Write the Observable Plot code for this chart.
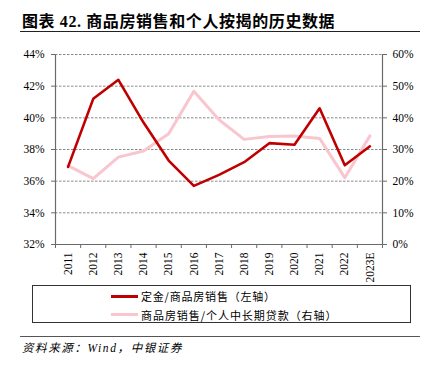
<!DOCTYPE html>
<html><head><meta charset="utf-8">
<script src="https://cdn.jsdelivr.net/npm/d3@7"></script>
<script src="https://cdn.jsdelivr.net/npm/@observablehq/plot@0.6"></script>
<style>
body{margin:0;background:#fff;}
#wrap{position:relative;width:421px;height:371px;overflow:hidden;background:#fff;font-family:"Liberation Serif","Noto Sans CJK SC",serif;}
#title{position:absolute;left:22px;top:8px;font-size:16px;font-weight:bold;letter-spacing:0.6px;font-family:"Liberation Serif","Noto Sans CJK SC",serif;color:#000;white-space:nowrap;}
#rule1{position:absolute;left:20px;top:31px;width:400px;height:0;border-top:1.5px solid #222;}
#chart{position:absolute;left:0;top:40px;}
#legend{position:absolute;left:32px;top:285px;width:377px;height:36px;border:1px solid #333;}
.li{position:absolute;left:78px;height:14px;font-size:11px;font-family:"Noto Sans CJK SC",sans-serif;color:#000;white-space:nowrap;display:flex;align-items:center;}
.sw{display:inline-block;width:27px;height:3px;margin-right:3px;}
#rule2{position:absolute;left:20px;top:336px;width:400px;height:0;border-top:1px solid #555;}
#src{position:absolute;left:22px;top:339px;font-size:11.5px;font-style:italic;letter-spacing:1.6px;font-family:"Liberation Serif","Noto Sans CJK SC",serif;color:#000;white-space:nowrap;}
</style></head>
<body><div id="wrap">
<div id="title">图表 42. 商品房销售和个人按揭的历史数据</div>
<div id="rule1"></div>
<div id="chart"></div>
<div id="legend"></div>
<div id="rule2"></div>
<div id="src">资料来源：Wind，中银证券</div>
</div>
<script>
const years = ["2011","2012","2013","2014","2015","2016","2017","2018","2019","2020","2021","2022","2023E"];
const depositRatio = [36.9, 41.2, 42.4, 39.7, 37.3, 35.7, 36.4, 37.2, 38.4, 38.3, 40.6, 37.0, 38.2];
const salesToLoans = [24.9, 20.8, 27.6, 29.5, 35.0, 48.4, 39.4, 33.2, 34.1, 34.3, 33.5, 21.1, 34.3];
const leftTicks = [32, 34, 36, 38, 40, 42, 44];
const rightTicks = [0, 10, 20, 30, 40, 50, 60];
const seriesNames = ["定金/商品房销售（左轴）", "商品房销售/个人中长期贷款（右轴）"];
const seriesColors = ["#c00000", "#f9c6cf"];

const leftDomain = [32, 44], rightDomain = [0, 60];
const toLeft = v => leftDomain[0] + (v - rightDomain[0]) * (leftDomain[1] - leftDomain[0]) / (rightDomain[1] - rightDomain[0]);
const fromLeft = v => rightDomain[0] + (v - leftDomain[0]) * (rightDomain[1] - rightDomain[0]) / (leftDomain[1] - leftDomain[0]);

const red = years.map((y, i) => ({x: i + 0.5, y: depositRatio[i]}));
const pink = years.map((y, i) => ({x: i + 0.5, y: toLeft(salesToLoans[i])}));
const axisColor = "#6b6b6b";

const chart = Plot.plot({
  width: 421, height: 245,
  marginTop: 14, marginBottom: 41, marginLeft: 55, marginRight: 39,
  x: {type: "linear", domain: [0, years.length]},
  y: {domain: leftDomain},
  style: {fontFamily: "Liberation Serif", fontSize: "11.5px", color: "#000", background: "transparent"},
  marks: [
    Plot.ruleY(leftTicks.filter(t => t > leftDomain[0]), {stroke: "#8a8a8a", strokeDasharray: "2.5,1.5", strokeWidth: 1}),
    Plot.axisY(leftTicks, {anchor: "left", tickFormat: d => d + "%", tickSize: 4, tickPadding: 7, label: null, stroke: axisColor}),
    Plot.axisY(rightTicks.map(toLeft), {anchor: "right", tickFormat: d => Math.round(fromLeft(d)) + "%", tickSize: 4, tickPadding: 6, label: null, stroke: axisColor}),
    Plot.axisX(years.map((y, i) => i + 0.5), {anchor: "bottom", tickFormat: d => years[Math.round(d - 0.5)], tickSize: 0, tickPadding: 8, tickRotate: -90, label: null}),
    Plot.axisX(d3.range(years.length + 1), {anchor: "bottom", tickFormat: () => "", tickSize: 4, label: null, stroke: axisColor}),
    Plot.ruleX([0, years.length], {stroke: axisColor, strokeWidth: 1.2}),
    Plot.ruleY([leftDomain[0]], {stroke: axisColor, strokeWidth: 1.2}),
    Plot.line(pink, {x: "x", y: "y", stroke: seriesColors[1], strokeWidth: 3}),
    Plot.line(red, {x: "x", y: "y", stroke: seriesColors[0], strokeWidth: 2.6})
  ]
});
document.getElementById("chart").appendChild(chart);

const legend = document.getElementById("legend");
seriesNames.forEach((n, i) => {
  const d = document.createElement("div");
  d.className = "li";
  d.style.top = (3 + i * 18.5) + "px";
  d.innerHTML = `<span class="sw" style="background:${seriesColors[i]}"></span><span style="letter-spacing:${i ? 0.95 : 0.8}px">${n}</span>`;
  legend.appendChild(d);
});
</script>
</body></html>
